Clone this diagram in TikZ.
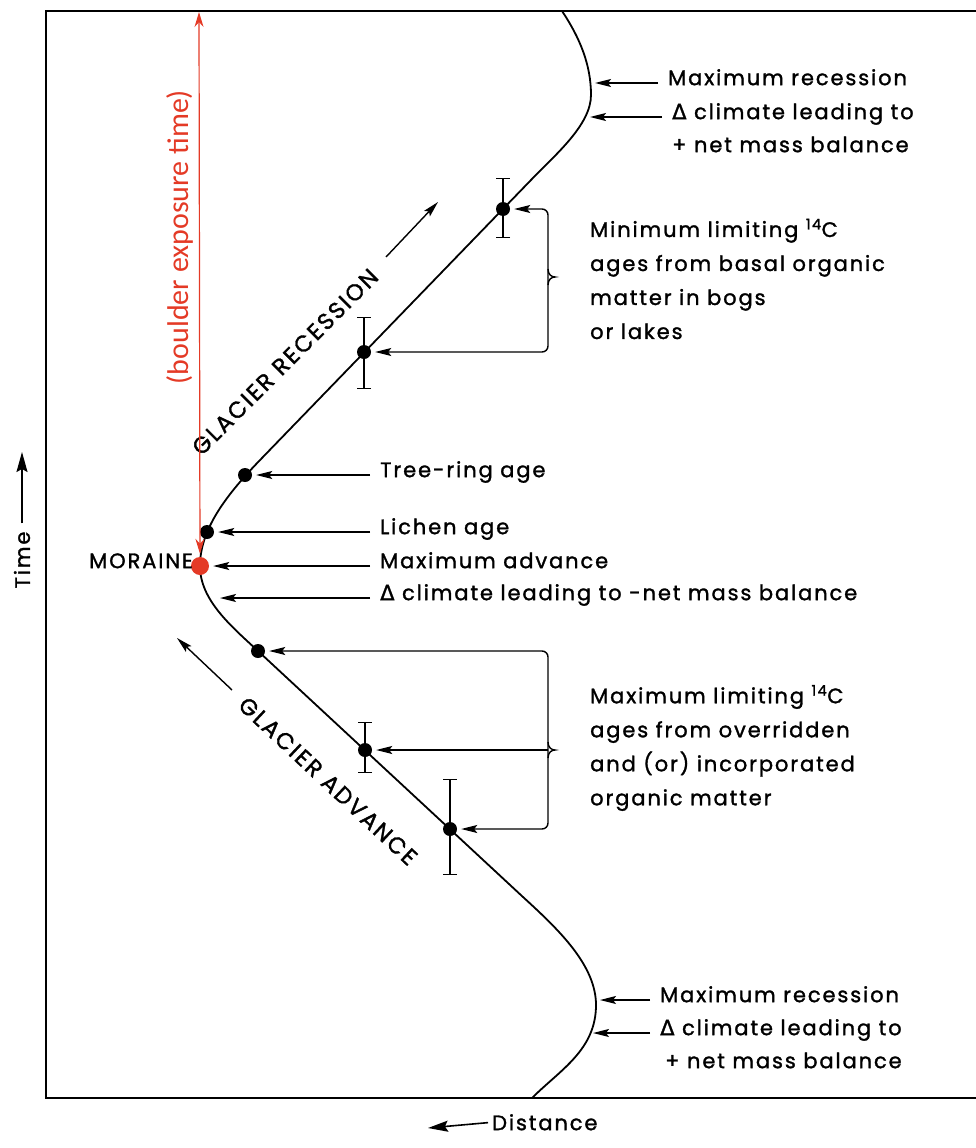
\documentclass[tikz,border=0pt]{standalone}
\usepackage{fontspec}
\usetikzlibrary{arrows.meta}
\newfontfamily\labfont[LetterSpace=9,FakeBold=1.4]{Poppins}
\newfontfamily\symfont[FakeBold=1.4]{DejaVu Sans}
\newfontfamily\expfont{Carlito}
\definecolor{expred}{RGB}{228,58,38}
\newcommand\labsize{\fontsize{21}{34}\selectfont}
\newcommand\trendsize{\fontsize{23}{28}\selectfont}
\tikzset{
  frame/.style={line width=1.5pt},
  front/.style={line width=1.8pt},
  lab/.style={font=\labfont\labsize, inner sep=0pt},
  trend/.style={font=\labfont\trendsize, inner sep=0pt},
  ptr/.style={-{Stealth[length=16pt,width=8pt,inset=3pt]}, line width=1.4pt, shorten <=10pt, shorten >=4pt},
  bigptr/.style={-{Stealth[length=20pt,width=11pt,inset=3pt]}, line width=1.6pt},
  dot/.style={circle, fill=black, inner sep=0pt, minimum size=14pt},
  mordot/.style={circle, fill=expred, inner sep=0pt, minimum size=18pt},
  ebar/.style={{Bar[width=14pt]}-{Bar[width=14pt]}, line width=1.2pt},
  brace/.style={line width=1.4pt}
}
\begin{document}
\begin{tikzpicture}[x=1pt,y=-1pt]
  \useasboundingbox (0,0) rectangle (976,1148);
  % frame
  \draw[frame] (976,11) -- (46,11) -- (46,1098) -- (976,1098);
  % ice front through time
  \draw[front] (562,11) .. controls (580,38) and (591,65) .. (591,95)
    .. controls (591,125) and (555,155) .. (531,180)
    -- (262,458)
    .. controls (225,496) and (200,530) .. (200,566)
    .. controls (200,600) and (231,626) .. (258,651)
    -- (523,897)
    .. controls (558,929) and (596,965) .. (596,1005)
    .. controls (596,1050) and (560,1070) .. (532,1098);
  % dated points
  \node[dot] (minA) at (503,209) {};
  \node[dot] (minB) at (364,352) {};
  \node[dot] (tree) at (245,475) {};
  \node[dot] (lichen) at (207,532) {};
  \node[mordot] (mor) at (200,566) {};
  \node[dot] (maxA) at (258,651) {};
  \node[dot] (maxB) at (365,750) {};
  \node[dot] (maxC) at (450,829) {};
  \draw[ebar] (503,178) -- (503,238);
  \draw[ebar] (364,317) -- (364,389);
  \draw[ebar] (365,722) -- (365,773);
  \draw[ebar] (450,779) -- (450,875);
  % labels
  \node[lab, anchor=mid west] (rec1) at (668,83) {Maximum recession};
  \node[lab, anchor=mid west] (clim1) at (672,117) {{\symfont Δ} climate leading to};
  \node[lab, anchor=mid west] (bal1) at (672,150) {+ net mass balance};
  \node[lab, anchor=west, align=left] (minlab) at (590,279) {Minimum limiting \textsuperscript{14}C\\ages from basal organic\\matter in bogs\\or lakes};
  \node[lab, anchor=mid west] (treelab) at (380,475) {Tree-ring age};
  \node[lab, anchor=mid west] (lichenlab) at (380,532) {Lichen age};
  \node[lab, anchor=mid west] (advlab) at (380,566) {Maximum advance};
  \node[lab, anchor=mid west] (neglab) at (380,598) {{\symfont Δ} climate leading to -net mass balance};
  \node[lab, anchor=west, align=left] (maxlab) at (590,748) {Maximum limiting \textsuperscript{14}C\\ages from overridden\\and (or) incorporated\\organic matter};
  \node[lab, anchor=mid west] (rec2) at (660,1000) {Maximum recession};
  \node[lab, anchor=mid west] (clim2) at (660,1033) {{\symfont Δ} climate leading to};
  \node[lab, anchor=mid west] (bal2) at (665,1066) {+ net mass balance};
  \node[lab, anchor=mid east] (morlab) at (193,566) {MORAINE};
  \node[trend, rotate=45] (reclab) at (285,362) {GLACIER RECESSION};
  \node[trend, rotate=-43] (advtext) at (328,781) {GLACIER ADVANCE};
  \node[lab, rotate=90] (timelab) at (22,560) {Time};
  \node[lab, anchor=mid west] (distlab) at (492,1128) {Distance};
  \node[font=\expfont\fontsize{30}{34}\selectfont, text=expred, rotate=90, inner sep=0pt] (explab) at (180,237) {(boulder exposure time)};
  % free ends
  \coordinate (topmax) at (591,83);
  \coordinate (topclim) at (586,117);
  \coordinate (botmax) at (596,1000);
  \coordinate (botclim) at (589,1033);
  \coordinate (negpt) at (216,598);
  \coordinate (minbr) at (548,277);
  \coordinate (maxbr) at (548,750);
  \coordinate (exptop) at (199,12);
  \coordinate (timetip) at (22,452);
  \coordinate (disttip) at (428,1128);
  \coordinate (rectail) at (386,257);
  \coordinate (rectip) at (438,202);
  \coordinate (advtail) at (232,690);
  \coordinate (advtip) at (177,638);
  % pointers
  \draw[ptr] (rec1.mid west) -- (topmax);
  \draw[ptr] (clim1.mid west) -- (topclim);
  \draw[ptr] (treelab.mid west) -- (tree);
  \draw[ptr] (lichenlab.mid west) -- (lichen);
  \draw[ptr] (advlab.mid west) -- (mor);
  \draw[ptr] (neglab.mid west) -- (negpt);
  \draw[ptr] (rec2.mid west) -- (botmax);
  \draw[ptr] (clim2.mid west) -- (botclim);
  % brackets
  \draw[ptr, shorten <=0pt, rounded corners=6pt] (minbr) |- (minA);
  \draw[ptr, shorten <=0pt, rounded corners=6pt] (minbr) |- (minB);
  \draw[brace] (minbr) ++(0,-8) .. controls ++(0,6) and ++(-3,0) .. ++(7,8) .. controls ++(-3,0) and ++(0,-6) .. ++(-7,8);
  \draw[ptr, shorten <=0pt, rounded corners=6pt] (maxbr) |- (maxA);
  \draw[ptr, shorten <=0pt] (maxbr) -- (maxB);
  \draw[ptr, shorten <=0pt, rounded corners=6pt] (maxbr) |- (maxC);
  \draw[brace] (maxbr) ++(0,-8) .. controls ++(0,6) and ++(-3,0) .. ++(7,8) .. controls ++(-3,0) and ++(0,-6) .. ++(-7,8);
  % axes and trends
  \draw[bigptr, shorten <=8pt] (timelab.east) -- (timetip);
  \draw[bigptr, shorten <=4pt] (distlab.west) -- (disttip);
  \draw[ptr, shorten <=0pt, shorten >=0pt] (rectail) -- (rectip);
  \draw[ptr, shorten <=0pt, shorten >=0pt] (advtail) -- (advtip);
  % exposure age
  \draw[expred, line width=1.2pt, {Stealth[length=15pt,width=9pt]}-{Stealth[length=15pt,width=9pt]}, shorten >=3pt] (exptop) -- (mor);
\end{tikzpicture}
\end{document}
